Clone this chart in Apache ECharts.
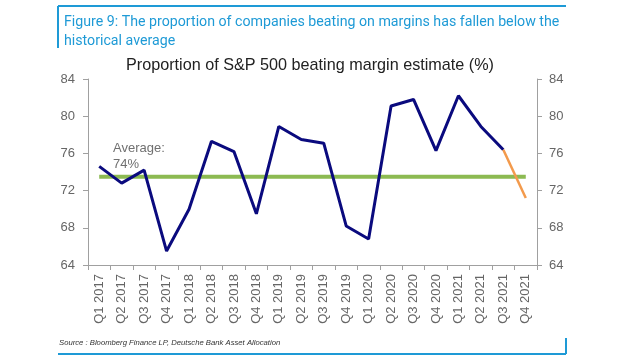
<!DOCTYPE html>
<html><head><meta charset="utf-8">
<script src="https://cdn.jsdelivr.net/npm/echarts@6/dist/echarts.min.js"></script>
<style>html,body{margin:0;padding:0;background:#fff}#c{width:640px;height:360px}</style>
</head><body><div id="c"></div>
<script>
var categories = ['Q1 2017','Q2 2017','Q3 2017','Q4 2017','Q1 2018','Q2 2018','Q3 2018','Q4 2018','Q1 2019','Q2 2019','Q3 2019','Q4 2019','Q1 2020','Q2 2020','Q3 2020','Q4 2020','Q1 2021','Q2 2021','Q3 2021','Q4 2021'];
var actual = [74.6,72.8,74.2,65.5,70.0,77.3,76.2,69.5,78.9,77.5,77.1,68.2,66.8,81.1,81.8,76.3,82.2,78.9,76.4,null];
var estimate = [null,null,null,null,null,null,null,null,null,null,null,null,null,null,null,null,null,null,76.4,71.2];
var averageValue = 73.5;
var averageLine = categories.map(function(){return averageValue;});
var yTicks = {min:64, max:84, interval:4};

var chart = echarts.init(document.getElementById('c'));
var gray = '#666666';
var blue = '#1e9ad6';
chart.setOption({
  animation:false,
  grid:{left:88,right:103,top:79,bottom:95},
  graphic:[
    {type:'line',shape:{x1:58,y1:6,x2:566,y2:6},style:{stroke:blue,lineWidth:2}},
    {type:'line',shape:{x1:58,y1:6,x2:58,y2:48},style:{stroke:blue,lineWidth:2}},
    {type:'line',shape:{x1:58,y1:354,x2:566,y2:354},style:{stroke:blue,lineWidth:2}},
    {type:'line',shape:{x1:566,y1:338,x2:566,y2:354},style:{stroke:blue,lineWidth:2}},
    {type:'text',left:64,top:13,style:{text:'Figure 9: The proportion of companies beating on margins has fallen below the\nhistorical average',fill:blue,font:'14.2px Roboto',lineHeight:19}},
    {type:'text',left:126,top:58,style:{text:'Proportion of S&P 500 beating margin estimate (%)',fill:'#222',font:'16.2px "Liberation Sans"'}},
    {type:'text',left:113,top:140,style:{text:'Average:\n74%',fill:'#707070',font:'13px "Liberation Sans"',lineHeight:16}},
    {type:'text',left:59,top:339,style:{text:'Source : Bloomberg Finance LP, Deutsche Bank Asset Allocation',fill:'#333',font:'italic 7.7px "Liberation Sans"'}}
  ],
  xAxis:{type:'category',data:categories,boundaryGap:true,
    axisLine:{lineStyle:{color:'#a0a0a0',width:1}},
    axisTick:{show:true,alignWithLabel:false,length:5,lineStyle:{color:'#a0a0a0'}},
    axisLabel:{rotate:90,color:gray,fontSize:13,fontFamily:'Liberation Sans',margin:9,interval:0},
    splitLine:{show:false}},
  yAxis:[
    {type:'value',position:'left',min:yTicks.min,max:yTicks.max,interval:yTicks.interval,
     axisLine:{show:true,lineStyle:{color:'#a0a0a0'}},axisTick:{show:true,length:5,lineStyle:{color:'#a0a0a0'}},
     axisLabel:{color:gray,fontSize:13,fontFamily:'Liberation Sans',margin:13},splitLine:{show:false}},
    {type:'value',position:'right',min:yTicks.min,max:yTicks.max,interval:yTicks.interval,
     axisLine:{show:true,lineStyle:{color:'#a0a0a0'}},axisTick:{show:true,length:5,lineStyle:{color:'#a0a0a0'}},
     axisLabel:{color:gray,fontSize:13,fontFamily:'Liberation Sans',margin:12},splitLine:{show:false}}
  ],
  series:[
    {type:'line',data:averageLine,symbol:'none',lineStyle:{color:'#8cba52',width:4},z:1},
    {type:'line',data:actual,symbol:'none',lineStyle:{color:'#0a0a7e',width:3},z:2},
    {type:'line',data:estimate,symbol:'none',lineStyle:{color:'#f39a4c',width:2.5},z:2}
  ]
});
</script></body></html>
